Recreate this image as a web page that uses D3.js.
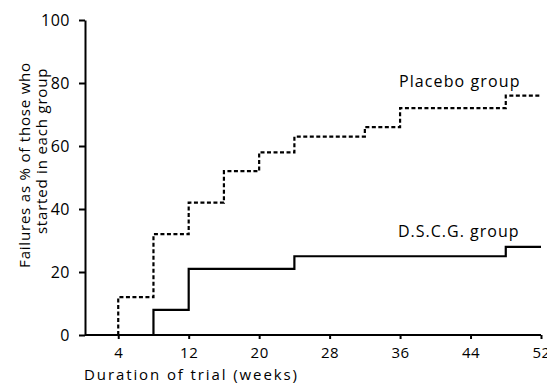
<!DOCTYPE html>
<html>
<head>
<meta charset="utf-8">
<script src="https://cdn.jsdelivr.net/npm/d3@7"></script>
<style>
  body { margin: 0; background: #fff; }
  svg text { font-family: "Open Sans", "DejaVu Sans", sans-serif; fill: #000; }
</style>
</head>
<body>
<svg width="547" height="385"></svg>
<script>
// values
const placeboWeeks = [4, 4, 8, 12, 16, 20, 24, 32, 36, 48, 52];
const placeboFail  = [0, 12, 32, 42, 52, 58, 63, 66, 72, 76, 76];
const dscgWeeks = [8, 8, 12, 24, 48, 52];
const dscgFail  = [0, 8, 21, 25, 28, 28];
const xTicks = [4, 12, 20, 28, 36, 44, 52];
const yTicks = [0, 20, 40, 60, 80, 100];

const svg = d3.select('svg');

const xScale = d3.scaleLinear().domain([0, 52]).range([83, 541]);
const yScale = d3.scaleLinear().domain([0, 100]).range([335, 20]);
const axisX0 = 85;

//---------------- axes ----------------//
const yAxis = svg.append('g')
    .attr('transform', `translate(${axisX0},0)`)
    .call(d3.axisLeft(yScale).tickValues(yTicks).tickSize(6).tickPadding(9).tickSizeOuter(0));

const xAxis = svg.append('g')
    .attr('transform', `translate(0,${yScale(0)})`)
    .call(d3.axisBottom(xScale).tickValues(xTicks).tickSize(4).tickPadding(8).tickSizeOuter(0));

xAxis.select('.domain').attr('d', `M${axisX0},0H${xScale(52)}`);

svg.selectAll('.domain, .tick line')
    .attr('stroke', '#000')
    .attr('stroke-width', 2);

yAxis.selectAll('.tick text')
    .style('font-size', '16px')
    .style('letter-spacing', '0.5px');

xAxis.selectAll('.tick text')
    .style('font-size', '15px')
    .style('letter-spacing', '0.5px');

//---------------- step lines ----------------//
const line = d3.line()
    .x(d => xScale(d[0]))
    .y(d => yScale(d[1]))
    .curve(d3.curveStepAfter);

svg.append('path')
    .datum(placeboWeeks.map((w, i) => [w, placeboFail[i]]))
    .attr('d', line)
    .attr('fill', 'none')
    .attr('stroke', '#000')
    .attr('stroke-width', 2.2)
    .attr('stroke-dasharray', '4,2.5');

svg.append('path')
    .datum(dscgWeeks.map((w, i) => [w, dscgFail[i]]))
    .attr('d', line)
    .attr('fill', 'none')
    .attr('stroke', '#000')
    .attr('stroke-width', 2.2);

//---------------- labels ----------------//
svg.append('text')
    .attr('x', 399).attr('y', 87)
    .style('font-size', '16px')
    .style('letter-spacing', '1.1px')
    .text('Placebo group');

svg.append('text')
    .attr('x', 398).attr('y', 237)
    .style('font-size', '16px')
    .style('letter-spacing', '1px')
    .text('D.S.C.G. group');

svg.append('text')
    .attr('x', 84).attr('y', 380)
    .style('font-size', '15px')
    .style('letter-spacing', '1.9px')
    .text('Duration of trial (weeks)');

svg.append('text')
    .attr('text-anchor', 'middle')
    .attr('transform', 'translate(30,165) rotate(-90)')
    .style('font-size', '15px')
    .style('letter-spacing', '0.8px')
    .text('Failures as % of those who');

svg.append('text')
    .attr('text-anchor', 'middle')
    .attr('transform', 'translate(47,151) rotate(-90)')
    .style('font-size', '15px')
    .style('letter-spacing', '0.8px')
    .text('started in each group');
</script>
</body>
</html>
